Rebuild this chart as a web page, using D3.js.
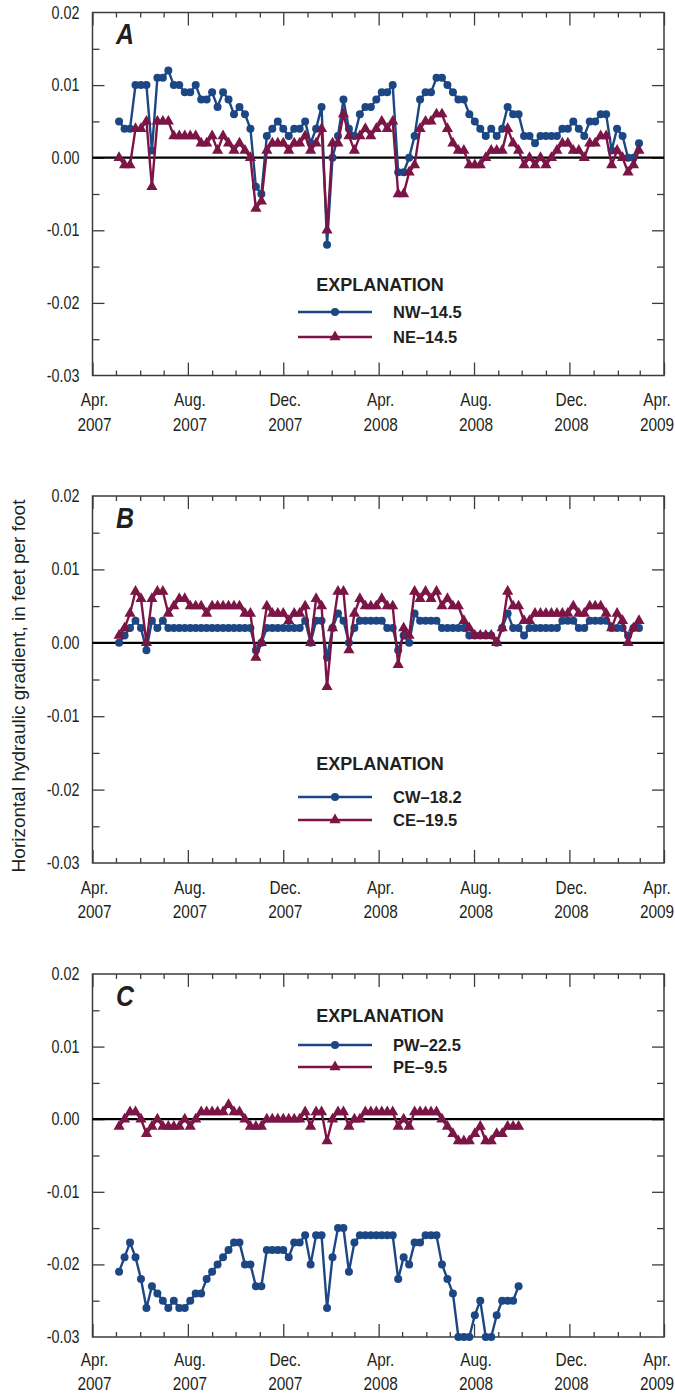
<!DOCTYPE html>
<html><head><meta charset="utf-8">
<script src="https://cdn.jsdelivr.net/npm/d3@7"></script>
<style>
body{margin:0;background:#fff}
svg text{font-family:'Liberation Sans',Arial,sans-serif;fill:#231f20}
</style>
</head><body>
<svg id="chart" width="675" height="1393"></svg>
<script>
// ---- data ----
const dates = [
"2007-05-05","2007-05-12","2007-05-19","2007-05-26","2007-06-02","2007-06-09","2007-06-16","2007-06-23","2007-06-30",
"2007-07-07","2007-07-14","2007-07-21","2007-07-28","2007-08-04","2007-08-11","2007-08-18","2007-08-25",
"2007-09-01","2007-09-08","2007-09-15","2007-09-22","2007-09-29","2007-10-06","2007-10-13","2007-10-20","2007-10-27",
"2007-11-03","2007-11-10","2007-11-17","2007-11-24","2007-12-01","2007-12-08","2007-12-15","2007-12-22","2007-12-29",
"2008-01-05","2008-01-12","2008-01-19","2008-01-26","2008-02-02","2008-02-09","2008-02-16","2008-02-23",
"2008-03-01","2008-03-08","2008-03-15","2008-03-22","2008-03-29","2008-04-05","2008-04-12","2008-04-19","2008-04-26",
"2008-05-03","2008-05-10","2008-05-17","2008-05-24","2008-05-31","2008-06-07","2008-06-14","2008-06-21","2008-06-28",
"2008-07-05","2008-07-12","2008-07-19","2008-07-26","2008-08-02","2008-08-09","2008-08-16","2008-08-23","2008-08-30",
"2008-09-06","2008-09-13","2008-09-20","2008-09-27","2008-10-04","2008-10-11","2008-10-18","2008-10-25",
"2008-11-01","2008-11-08","2008-11-15","2008-11-22","2008-11-29","2008-12-06","2008-12-13","2008-12-20","2008-12-27",
"2009-01-03","2009-01-10","2009-01-17","2009-01-24","2009-01-31","2009-02-07","2009-02-14","2009-02-21","2009-02-28"
];

// Panel A
const nw145 = [0.005,0.004,0.004,0.010,0.010,0.010,0.001,0.011,0.011,0.012,
0.010,0.010,0.009,0.009,0.010,0.008,0.008,0.009,0.007,0.009,
0.008,0.006,0.007,0.006,0.004,-0.004,-0.005,0.003,0.004,0.005,
0.004,0.003,0.004,0.004,0.005,0.002,0.004,0.007,-0.012,0.000,
0.003,0.008,0.004,0.003,0.006,0.007,0.007,0.008,0.009,0.009,
0.010,-0.002,-0.002,0.000,0.003,0.008,0.009,0.009,0.011,0.011,
0.010,0.009,0.008,0.008,0.006,0.005,0.004,0.003,0.004,0.003,
0.004,0.007,0.006,0.006,0.003,0.003,0.002,0.003,0.003,0.003,
0.003,0.004,0.004,0.005,0.004,0.003,0.005,0.005,0.006,0.006,
0.001,0.004,0.003,0.000,0.000,0.002];
const ne145 = [0.000,-0.001,-0.001,0.004,0.004,0.005,-0.004,0.005,0.005,0.005,
0.003,0.003,0.003,0.003,0.003,0.002,0.002,0.003,0.001,0.003,
0.002,0.001,0.002,0.001,0.000,-0.007,-0.006,0.001,0.002,0.002,
0.002,0.001,0.002,0.002,0.003,0.001,0.002,0.004,-0.010,0.002,
0.002,0.006,0.003,0.001,0.003,0.004,0.003,0.004,0.005,0.004,
0.005,-0.005,-0.005,-0.002,-0.001,0.004,0.005,0.005,0.006,0.006,
0.004,0.002,0.001,0.001,-0.001,-0.001,-0.001,0.000,0.001,0.001,
0.001,0.004,0.002,0.001,-0.001,0.000,-0.001,0.000,-0.001,0.000,
0.001,0.002,0.002,0.001,0.001,0.000,0.002,0.002,0.003,0.003,
-0.001,0.001,0.000,-0.002,-0.001,0.001];

// Panel B
const cw182 = [0.000,0.001,0.002,0.003,0.002,-0.001,0.003,0.002,0.003,0.002,
0.002,0.002,0.002,0.002,0.002,0.002,0.002,0.002,0.002,0.002,
0.002,0.002,0.002,0.002,0.002,-0.001,0.000,0.002,0.002,0.002,
0.002,0.002,0.002,0.002,0.003,0.000,0.003,0.003,-0.002,0.002,
0.004,0.003,0.000,0.002,0.003,0.003,0.003,0.003,0.003,0.002,
0.002,-0.001,0.001,0.000,0.004,0.003,0.003,0.003,0.003,0.002,
0.002,0.002,0.002,0.002,0.001,0.001,0.001,0.001,0.001,0.000,
0.002,0.004,0.002,0.002,0.001,0.002,0.002,0.002,0.002,0.002,
0.002,0.003,0.003,0.003,0.002,0.002,0.003,0.003,0.003,0.003,
0.002,0.002,0.002,0.001,0.002,0.002];
const ce195 = [0.001,0.002,0.004,0.007,0.006,0.000,0.006,0.007,0.007,0.004,
0.005,0.006,0.006,0.005,0.005,0.005,0.004,0.005,0.005,0.005,
0.005,0.005,0.005,0.004,0.004,-0.002,0.000,0.005,0.004,0.004,
0.004,0.003,0.004,0.004,0.005,0.000,0.006,0.005,-0.006,0.002,
0.007,0.007,-0.001,0.004,0.006,0.005,0.005,0.005,0.006,0.005,
0.005,-0.003,0.002,0.001,0.007,0.006,0.007,0.006,0.007,0.005,
0.006,0.005,0.005,0.003,0.002,0.001,0.001,0.001,0.001,0.000,
0.002,0.007,0.005,0.005,0.003,0.003,0.004,0.004,0.004,0.004,
0.004,0.004,0.004,0.005,0.004,0.004,0.005,0.005,0.005,0.004,
0.002,0.004,0.003,0.000,0.002,0.003];

// Panel C
const pw225 = [-0.021,-0.019,-0.017,-0.019,-0.022,-0.026,-0.023,-0.024,-0.025,-0.026,
-0.025,-0.026,-0.026,-0.025,-0.024,-0.024,-0.022,-0.021,-0.020,-0.019,
-0.018,-0.017,-0.017,-0.020,-0.020,-0.023,-0.023,-0.018,-0.018,-0.018,
-0.018,-0.019,-0.017,-0.017,-0.016,-0.020,-0.016,-0.016,-0.026,-0.019,
-0.015,-0.015,-0.021,-0.017,-0.016,-0.016,-0.016,-0.016,-0.016,-0.016,
-0.016,-0.022,-0.019,-0.020,-0.017,-0.017,-0.016,-0.016,-0.016,-0.020,
-0.022,-0.024,-0.030,-0.030,-0.030,-0.027,-0.025,-0.030,-0.030,-0.027,
-0.025,-0.025,-0.025,-0.023];
const pe95 = [-0.001,0.000,0.001,0.001,0.000,-0.002,-0.001,0.000,-0.001,-0.001,
-0.001,-0.001,0.000,-0.001,0.000,0.001,0.001,0.001,0.001,0.001,
0.002,0.001,0.001,0.000,-0.001,-0.001,-0.001,0.000,0.000,0.000,
0.000,0.000,0.000,0.000,0.001,-0.001,0.001,0.001,-0.003,0.000,
0.001,0.001,-0.001,0.000,0.000,0.001,0.001,0.001,0.001,0.001,
0.001,-0.001,0.000,-0.001,0.001,0.001,0.001,0.001,0.001,0.000,
-0.001,-0.002,-0.003,-0.003,-0.003,-0.002,-0.001,-0.003,-0.003,-0.002,
-0.002,-0.001,-0.001,-0.001];

const yTicks = [0.02, 0.01, 0.00, -0.01, -0.02, -0.03];
const yTickLabels = ["0.02", "0.01", "0.00", "-0.01", "-0.02", "-0.03"];
const xTickDates = ["2007-04-01","2007-08-01","2007-12-01","2008-04-01","2008-08-01","2008-12-01","2009-04-01"];
const xTickMonths = ["Apr.","Aug.","Dec.","Apr.","Aug.","Dec.","Apr."];
const xTickYears = ["2007","2007","2007","2008","2008","2008","2009"];
const yTitle = "Horizontal hydraulic gradient, in feet per foot";
const legendTitle = "EXPLANATION";

// ---- layout ----
const parse = d3.timeParse("%Y-%m-%d");
const blue = "#1c4784", maroon = "#7b1545", axisCol = "#3c3c3c";
const L = 92.5, R = 664;
const panels = [
  {letter:"A", top:12.5, bottom:375.5, lab:[30.5, 55], legend:[284, 312, 337],
   series:[{label:"NW–14.5", values:nw145, color:blue, kind:"circle"},
           {label:"NE–14.5", values:ne145, color:maroon, kind:"triangle"}]},
  {letter:"B", top:496, bottom:863, lab:[30.5, 55], legend:[763, 797, 820],
   series:[{label:"CW–18.2", values:cw182, color:blue, kind:"circle"},
           {label:"CE–19.5", values:ce195, color:maroon, kind:"triangle"}]},
  {letter:"C", top:974, bottom:1337, lab:[29, 52.5], legend:[1015, 1045, 1067],
   series:[{label:"PW–22.5", values:pw225, color:blue, kind:"circle"},
           {label:"PE–9.5", values:pe95, color:maroon, kind:"triangle"}]}
];

const svg = d3.select("#chart");
const x = d3.scaleTime().domain([parse("2007-04-01"), parse("2009-04-01")]).range([L, R]);
const months = d3.timeMonth.range(parse("2007-04-01"), parse("2009-04-02"));
const majors = xTickDates.map(parse);
const minors = months.filter(m => !majors.some(j => +j === +m));
const triangle = d3.symbol().type(d3.symbolTriangle).size(54);

// text with horizontal compression (condensed look)
function txt(g, px, py, s, o) {
  o = o || {};
  const t = g.append("text")
    .attr("transform", `translate(${px},${py})${o.rotate ? " rotate(" + o.rotate + ")" : ""} scale(${o.sx || 1},1)`)
    .attr("font-size", o.size || 17)
    .attr("text-anchor", o.anchor || "start")
    .text(s);
  if (o.bold) t.attr("font-weight", "bold");
  if (o.italic) t.attr("font-style", "italic");
  return t;
}

function styleAxis(g){ g.select(".domain").remove(); g.selectAll("line").attr("stroke", axisCol).attr("stroke-width", 1.3); }

panels.forEach(p => {
  const y = d3.scaleLinear().domain([-0.03, 0.02]).range([p.bottom, p.top]);
  const g = svg.append("g");

  // ticks (inward on all four sides)
  g.append("g").attr("transform", `translate(0,${p.bottom})`).call(d3.axisBottom(x).tickValues(minors).tickSize(-5).tickFormat("")).call(styleAxis);
  g.append("g").attr("transform", `translate(0,${p.bottom})`).call(d3.axisBottom(x).tickValues(majors).tickSize(-13).tickFormat("")).call(styleAxis);
  g.append("g").attr("transform", `translate(0,${p.top})`).call(d3.axisTop(x).tickValues(minors).tickSize(-5).tickFormat("")).call(styleAxis);
  g.append("g").attr("transform", `translate(0,${p.top})`).call(d3.axisTop(x).tickValues(majors).tickSize(-13).tickFormat("")).call(styleAxis);
  const yMinor = [0.015, 0.005, -0.005, -0.015, -0.025];
  const yMajor = [0.01, 0, -0.01, -0.02];
  g.append("g").attr("transform", `translate(${L},0)`).call(d3.axisLeft(y).tickValues(yMinor).tickSize(-7).tickFormat("")).call(styleAxis);
  g.append("g").attr("transform", `translate(${L},0)`).call(d3.axisLeft(y).tickValues(yMajor).tickSize(-12).tickFormat("")).call(styleAxis);
  g.append("g").attr("transform", `translate(${R},0)`).call(d3.axisRight(y).tickValues(yMinor).tickSize(-7).tickFormat("")).call(styleAxis);
  g.append("g").attr("transform", `translate(${R},0)`).call(d3.axisRight(y).tickValues(yMajor).tickSize(-12).tickFormat("")).call(styleAxis);

  // frame
  g.append("rect").attr("x", L).attr("y", p.top).attr("width", R - L).attr("height", p.bottom - p.top)
    .attr("fill", "none").attr("stroke", axisCol).attr("stroke-width", 1.5);

  // y labels
  yTicks.forEach((v, i) => txt(g, L - 13, y(v) + 6, yTickLabels[i], {size: 17.5, sx: 0.82, anchor: "end"}));

  // x labels
  majors.forEach((d, i) => {
    const cx = Math.min(x(d) + 2, 657);
    txt(g, cx, p.bottom + p.lab[0], xTickMonths[i], {size: 17.5, sx: 0.88, anchor: "middle"});
    txt(g, cx, p.bottom + p.lab[1], xTickYears[i], {size: 17.5, sx: 0.88, anchor: "middle"});
  });

  // zero line
  g.append("line").attr("x1", L).attr("x2", R).attr("y1", y(0)).attr("y2", y(0)).attr("stroke", "#000").attr("stroke-width", 2.2);

  // series
  p.series.forEach(s => {
    const pts = s.values.map((v, i) => ({d: parse(dates[i]), v}));
    g.append("path").datum(pts)
      .attr("d", d3.line().x(q => x(q.d)).y(q => y(q.v)))
      .attr("fill", "none").attr("stroke", s.color).attr("stroke-width", 2.4).attr("stroke-linejoin", "round");
    if (s.kind === "circle") {
      g.selectAll(null).data(pts).join("circle")
        .attr("cx", q => x(q.d)).attr("cy", q => y(q.v)).attr("r", 4).attr("fill", s.color);
    } else {
      g.selectAll(null).data(pts).join("path")
        .attr("d", triangle).attr("transform", q => `translate(${x(q.d)},${y(q.v)})`).attr("fill", s.color);
    }
  });

  // panel letter
  txt(g, 116, p.top + 31.5, p.letter, {size: 29, sx: 0.86, bold: true, italic: true});

  // legend
  txt(g, 380, p.legend[0] + 6.5, legendTitle, {size: 18, bold: true, anchor: "middle"});
  p.series.forEach((s, i) => {
    const ly = p.legend[i + 1];
    g.append("line").attr("x1", 298).attr("x2", 372).attr("y1", ly).attr("y2", ly).attr("stroke", s.color).attr("stroke-width", 2.4);
    if (s.kind === "circle") g.append("circle").attr("cx", 335).attr("cy", ly).attr("r", 4).attr("fill", s.color);
    else g.append("path").attr("d", triangle).attr("transform", `translate(335,${ly})`).attr("fill", s.color);
    txt(g, 393, ly + 6, s.label, {size: 16.5, bold: true});
  });
});

// y-axis title
txt(svg, 24.5, 686, yTitle, {size: 19, rotate: -90, anchor: "middle"});
</script>
</body></html>
